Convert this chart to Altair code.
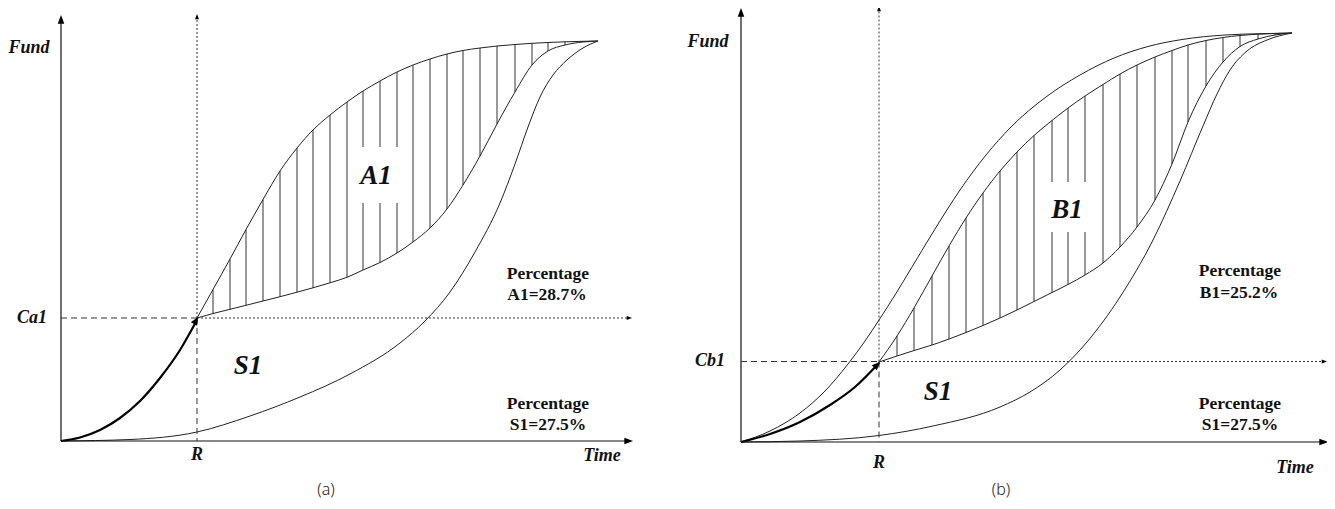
import altair as alt
import pandas as pd

# ---------------- Panel (a) ----------------
a_x      = [197, 213, 230, 246, 263, 280, 297, 313, 330, 347, 363, 380, 397, 413, 430, 447, 463, 480, 497, 515, 532, 548, 565, 583, 598]
a_upper  = [318, 289.5, 259, 229.5, 199.5, 171, 148, 130, 115, 102, 91, 81, 72, 65, 59, 54, 50.5, 48, 46, 44.5, 43.3, 42.5, 41.8, 41.3, 41]
a_middle = [318, 313.5, 309.3, 305.3, 301, 296.7, 292.2, 287.8, 282.8, 277.3, 270, 262.5, 253, 242, 228, 209, 185, 156, 124, 92, 65, 51, 45, 42, 41]
a_lower_x = [61, 130, 197, 250, 300, 350, 400, 425, 450, 475, 500, 515, 528, 540, 553, 567, 583, 598]
a_lower_y = [441, 439.5, 432, 416, 397, 374, 343, 321, 292, 252, 203, 164, 127, 97, 75, 60, 48, 41]
a_thick_x = [61, 80, 100, 120, 140, 160, 180, 197]
a_thick_y = [441, 437.5, 430, 418, 401, 378, 350, 320]
a_gap_x = [363, 380, 397]
a_gap = (147, 203)

# ---------------- Panel (b) ----------------
b_x      = [879, 897, 914, 932, 949, 966, 983, 1000, 1017, 1034, 1052, 1068, 1085, 1103, 1120, 1137, 1155, 1172, 1188, 1206, 1223, 1240, 1258, 1275, 1292]
b_upper  = [362, 336, 308, 276, 246, 218, 193, 171, 152, 135.5, 120.5, 108, 96, 84.5, 74, 65, 57, 50.5, 45, 40.5, 37.5, 35.5, 34.2, 33.5, 33]
b_middle = [362, 356, 350.5, 345, 339, 332.5, 325.5, 318, 310, 301.5, 292.5, 284.5, 275, 263, 247, 227, 200, 164, 122, 86, 62, 46.5, 39, 35, 33]
b_outer_x = [741, 770, 800, 825, 848, 865, 879, 895, 909, 935, 960, 986, 1011, 1046, 1080, 1114, 1148, 1182, 1225, 1260, 1292]
b_outer_y = [442, 431, 413, 391, 364, 341, 320, 295, 272, 229, 190, 155, 127, 97, 75, 58, 46.5, 39.5, 35, 33.7, 33]
b_lower_x = [741, 800, 879, 933, 1000, 1030, 1060, 1087, 1120, 1153, 1180, 1203, 1217, 1230, 1247, 1267, 1292]
b_lower_y = [442, 441, 435.5, 426, 407, 392, 370, 342, 297, 240, 181, 126, 94, 70, 51, 40, 33]
b_thick_x = [741, 770, 800, 830, 855, 879]
b_thick_y = [442, 434, 422, 405, 387, 363]
b_gap_x = [1052, 1068, 1085]
b_gap = (182, 232)

# guide lines: (x, y, x2, y2)
solid_segs = [(61, 441, 61, 22), (61, 441, 626, 441), (741, 442, 741, 14), (741, 442, 1321, 442)]
dashed_segs = [(61, 318, 197, 318), (197, 318, 197, 441), (741, 361.5, 879, 361.5), (879, 361.5, 879, 442)]
dotted_segs = [(197, 318, 197, 19), (197, 318, 628, 318), (879, 361.5, 879, 10), (879, 361.5, 1323, 361.5)]
# arrow tips: (x, y, angle)
big_tips = [(61, 15, 0), (633, 441, 90), (741, 8, 0), (1328, 442, 90)]
small_tips = [(197, 14, 0), (632, 318, 90), (879, 6, 0), (1327, 361.5, 90)]
curve_tips = [(198, 317, 30), (880, 362, 45)]

axis_labels = [("Fund", 29, 48), ("Ca1", 32, 318), ("R", 197, 455), ("Time", 602, 456),
               ("Fund", 708, 42), ("Cb1", 710, 361), ("R", 879, 463), ("Time", 1295, 468)]
region_labels = [("A1", 376, 176), ("S1", 248, 366), ("B1", 1067, 210), ("S1", 938, 392)]
pct_labels = [("Percentage", 548, 274), ("A1=28.7%", 547, 295), ("Percentage", 548, 404), ("S1=27.5%", 548, 425),
              ("Percentage", 1240, 271), ("B1=25.2%", 1239, 293), ("Percentage", 1240, 404), ("S1=27.5%", 1240, 425)]
panel_labels = [("(a)", 326, 490), ("(b)", 1001, 490)]

# ---------------- build tables ----------------
def curve(name, xs, ys):
    return pd.DataFrame({"x": xs, "y": ys, "curve": name})

thin = pd.concat([
    curve("a_upper", a_x, a_upper), curve("a_middle", a_x, a_middle), curve("a_lower", a_lower_x, a_lower_y),
    curve("b_upper", b_x, b_upper), curve("b_middle", b_x, b_middle), curve("b_outer", b_outer_x, b_outer_y),
    curve("b_lower", b_lower_x, b_lower_y)], ignore_index=True)
thick = pd.concat([curve("a_thick", a_thick_x, a_thick_y), curve("b_thick", b_thick_x, b_thick_y)], ignore_index=True)

def hatch(xs, tops, bots, gap_x, gap):
    rows = []
    for x, t, b in list(zip(xs, tops, bots))[1:-1]:
        if x in gap_x:
            rows.append({"x": x, "y": t, "y2": gap[0]})
            rows.append({"x": x, "y": gap[1], "y2": b})
        else:
            rows.append({"x": x, "y": t, "y2": b})
    return rows

hatch_df = pd.DataFrame(hatch(a_x, a_upper, a_middle, a_gap_x, a_gap) + hatch(b_x, b_upper, b_middle, b_gap_x, b_gap))

def segs(lst):
    return pd.DataFrame(lst, columns=["x", "y", "x2", "y2"])

def tips(lst):
    return pd.DataFrame(lst, columns=["x", "y", "angle"])

def labels(lst):
    return pd.DataFrame(lst, columns=["text", "x", "y"])

xs = alt.Scale(domain=[8, 1327], nice=False, zero=False)
ys = alt.Scale(domain=[8, 501], nice=False, zero=False, reverse=True)
X = alt.X("x:Q", scale=xs, axis=None)
Y = alt.Y("y:Q", scale=ys, axis=None)

layers = []
layers.append(alt.Chart(hatch_df).mark_rule(color="#333", strokeWidth=1).encode(X, Y, y2="y2:Q"))
layers.append(alt.Chart(thin).mark_line(interpolate="monotone", color="#222", strokeWidth=1).encode(X, Y, detail="curve:N"))
layers.append(alt.Chart(thick).mark_line(interpolate="monotone", color="#000", strokeWidth=2.2).encode(X, Y, detail="curve:N"))
layers.append(alt.Chart(segs(solid_segs)).mark_rule(color="#111", strokeWidth=1.2).encode(X, Y, x2="x2:Q", y2="y2:Q"))
layers.append(alt.Chart(segs(dashed_segs)).mark_rule(color="#333", strokeWidth=1, strokeDash=[6, 4]).encode(X, Y, x2="x2:Q", y2="y2:Q"))
layers.append(alt.Chart(segs(dotted_segs)).mark_rule(color="#333", strokeWidth=1, strokeDash=[2, 2]).encode(X, Y, x2="x2:Q", y2="y2:Q"))

tip_shape = "M0,0L-0.38,1L0.38,1Z"
layers.append(alt.Chart(tips(big_tips)).mark_point(shape=tip_shape, filled=True, color="#000", opacity=1, size=300, strokeWidth=0)
              .encode(X, Y, angle=alt.Angle("angle:Q", scale=None)))
layers.append(alt.Chart(tips(small_tips)).mark_point(shape=tip_shape, filled=True, color="#000", opacity=1, size=110, strokeWidth=0)
              .encode(X, Y, angle=alt.Angle("angle:Q", scale=None)))
layers.append(alt.Chart(tips(curve_tips)).mark_point(shape="M0,0L-0.45,1L0.45,1Z", filled=True, color="#000", opacity=1, size=260, strokeWidth=0)
              .encode(X, Y, angle=alt.Angle("angle:Q", scale=None)))

layers.append(alt.Chart(labels(axis_labels)).mark_text(font="Liberation Serif", fontSize=18, fontStyle="italic", fontWeight="bold",
              align="center", baseline="middle", color="#111").encode(X, Y, text="text:N"))
layers.append(alt.Chart(labels(region_labels)).mark_text(font="Liberation Serif", fontSize=27, fontStyle="italic", fontWeight="bold",
              align="center", baseline="middle", color="#111").encode(X, Y, text="text:N"))
layers.append(alt.Chart(labels(pct_labels)).mark_text(font="Liberation Serif", fontSize=17.5, fontWeight="bold",
              align="center", baseline="middle", color="#111").encode(X, Y, text="text:N"))
layers.append(alt.Chart(labels(panel_labels)).mark_text(font="Noto Sans", fontSize=16, fontWeight=300,
              align="center", baseline="middle", color="#222").encode(X, Y, text="text:N"))

chart = alt.layer(*layers).properties(
    width=1319, height=493, autosize=alt.AutoSizeParams(type="none"), padding=0
).configure_view(stroke=None)

chart.save("out.html", embed_options={"renderer": "svg", "actions": False})
